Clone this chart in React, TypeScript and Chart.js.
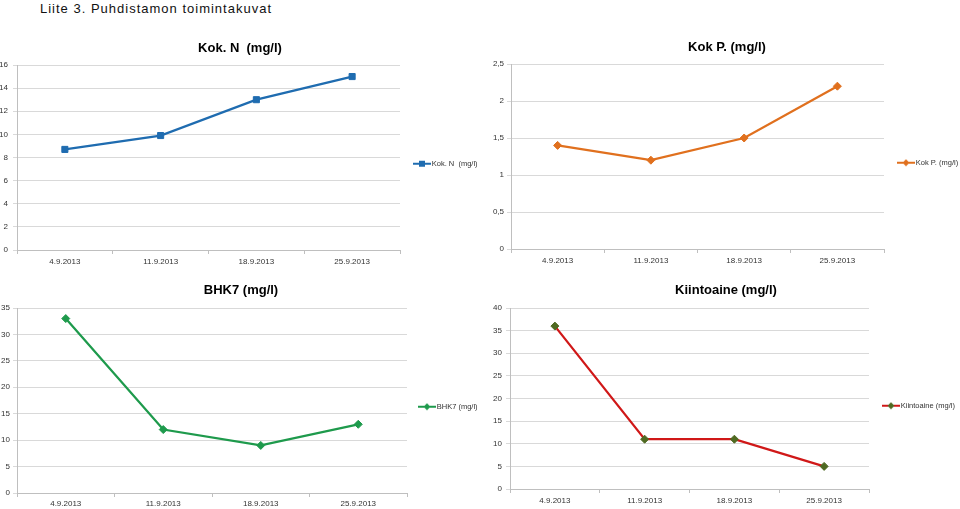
import React, { useEffect, useRef } from "react";
import { Chart, registerables } from "chart.js";

Chart.register(...registerables);

// ---- data ----
const pageTitle = "Liite 3. Puhdistamon toimintakuvat";
const categories = ["4.9.2013", "11.9.2013", "18.9.2013", "25.9.2013"];

const kokNLabel = "Kok. N  (mg/l)";
const kokNValues = [8.7, 9.9, 13, 15];

const kokPLabel = "Kok P. (mg/l)";
const kokPValues = [1.4, 1.2, 1.5, 2.2];

const bhk7Label = "BHK7 (mg/l)";
const bhk7Values = [33, 12, 9, 13];

const kiintoaineLabel = "Kiintoaine (mg/l)";
const kiintoaineValues = [36, 11, 11, 5];

const FONT = "'Liberation Sans', Arial, Helvetica, sans-serif";

type Spec = {
  left: number;
  top: number;
  width: number;
  height: number;
  pad: number;
  title: string;
  label: string;
  data: number[];
  color: string;
  markerColor: string;
  shape: "rect" | "rectRot";
  yMax: number;
  yStep: number;
  comma?: boolean;
  yWidth: number;
  yPad: number;
  xHeight: number;
  xPad: number;
  titlePadTop: number;
  titlePadBottom: number;
  legendWidth: number;
  legendPad: number;
  legendShift: number;
};

function legendSymbol(color: string, markerColor: string, shape: string) {
  const c = document.createElement("canvas");
  c.width = 18;
  c.height = 8;
  const ctx = c.getContext("2d")!;
  ctx.strokeStyle = color;
  ctx.lineWidth = 2;
  ctx.beginPath();
  ctx.moveTo(0, 4);
  ctx.lineTo(18, 4);
  ctx.stroke();
  ctx.fillStyle = markerColor;
  if (shape === "rect") {
    ctx.fillRect(6, 1, 6, 6);
  } else {
    ctx.beginPath();
    ctx.moveTo(9, 0.5);
    ctx.lineTo(12.5, 4);
    ctx.lineTo(9, 7.5);
    ctx.lineTo(5.5, 4);
    ctx.closePath();
    ctx.fill();
  }
  return c;
}

function buildConfig(s: Spec): any {
  return {
    type: "line",
    data: {
      labels: categories,
      datasets: [
        {
          label: s.label,
          data: s.data,
          borderColor: s.color,
          backgroundColor: s.markerColor,
          borderWidth: 2.25,
          pointStyle: s.shape,
          pointRadius: s.shape === "rect" ? 4.3 : 4,
          pointBackgroundColor: s.markerColor,
          pointBorderColor: s.markerColor,
          pointBorderWidth: 1,
          tension: 0,
        },
      ],
    },
    options: {
      responsive: false,
      animation: false,
      devicePixelRatio: 1,
      events: [],
      layout: { padding: { left: s.pad, right: s.pad, top: 0, bottom: 0 } },
      plugins: {
        tooltip: { enabled: false },
        title: {
          display: true,
          text: s.title,
          color: "#000",
          font: { family: FONT, size: 13, weight: "bold", lineHeight: 1.2 },
          padding: { top: s.titlePadTop, bottom: s.titlePadBottom },
        },
        legend: {
          display: true,
          position: "right",
          align: "start",
          maxWidth: s.legendWidth,
          title: {
            display: true,
            text: "",
            padding: 0,
            font: { family: FONT, size: 8, lineHeight: `${s.legendShift}px` },
          },
          labels: {
            usePointStyle: true,
            pointStyle: legendSymbol(s.color, s.markerColor, s.shape),
            pointStyleWidth: 12,
            padding: s.legendPad,
            color: "#333",
            font: { family: FONT, size: 7.5 },
          },
        },
      },
      scales: {
        x: {
          type: "category",
          offset: true,
          afterFit: (scale: any) => {
            scale.height = s.xHeight;
          },
          grid: {
            offset: true,
            drawOnChartArea: false,
            drawTicks: true,
            tickLength: 4,
            color: "#bfbfbf",
          },
          border: { display: true, color: "#bfbfbf", width: 1 },
          ticks: {
            color: "#333",
            padding: s.xPad,
            maxRotation: 0,
            autoSkip: false,
            font: { family: FONT, size: 8 },
          },
        },
        y: {
          type: "linear",
          min: 0,
          max: s.yMax,
          afterFit: (scale: any) => {
            scale.width = s.yWidth;
          },
          grid: {
            color: "#d9d9d9",
            lineWidth: 1,
            drawTicks: true,
            tickLength: 4,
          },
          border: { display: true, color: "#bfbfbf", width: 1 },
          ticks: {
            stepSize: s.yStep,
            color: "#333",
            padding: s.yPad,
            font: { family: FONT, size: 8 },
            callback: (v: any) => (s.comma ? String(v).replace(".", ",") : String(v)),
          },
        },
      },
    },
  };
}

const specs: Spec[] = [
  {
    left: -40, top: 30, width: 560, height: 240, pad: 36,
    title: "Kok. N  (mg/l)", label: kokNLabel, data: kokNValues,
    color: "#1f6cb0", markerColor: "#1f6cb0", shape: "rect",
    yMax: 16, yStep: 2,
    yWidth: 21, yPad: 5, xHeight: 20, xPad: 3,
    titlePadTop: 11, titlePadBottom: 8.4,
    legendWidth: 84, legendPad: 16, legendShift: 114,
  },
  {
    left: 447, top: 30, width: 560, height: 240, pad: 42,
    title: "Kok P. (mg/l)", label: kokPLabel, data: kokPValues,
    color: "#e0701e", markerColor: "#e0701e", shape: "rectRot",
    yMax: 2.5, yStep: 0.5, comma: true,
    yWidth: 22, yPad: 3, xHeight: 21, xPad: 3,
    titlePadTop: 10, titlePadBottom: 8.4,
    legendWidth: 81, legendPad: 16, legendShift: 113,
  },
  {
    left: -39, top: 270, width: 560, height: 239, pad: 38,
    title: "BHK7 (mg/l)", label: bhk7Label, data: bhk7Values,
    color: "#1e9a4c", markerColor: "#1e9a4c", shape: "rectRot",
    yMax: 35, yStep: 5,
    yWidth: 18, yPad: 3, xHeight: 16, xPad: 2,
    titlePadTop: 13, titlePadBottom: 9.4,
    legendWidth: 76, legendPad: 14, legendShift: 119,
  },
  {
    left: 446, top: 270, width: 560, height: 239, pad: 45,
    title: "Kiintoaine (mg/l)", label: kiintoaineLabel, data: kiintoaineValues,
    color: "#d01818", markerColor: "#4f6a22", shape: "rectRot",
    yMax: 40, yStep: 5,
    yWidth: 19, yPad: 4, xHeight: 20, xPad: 3,
    titlePadTop: 13, titlePadBottom: 9.4,
    legendWidth: 92, legendPad: 16, legendShift: 116,
  },
];

function LineChart({ spec }: { spec: Spec }) {
  const ref = useRef<HTMLCanvasElement>(null);
  useEffect(() => {
    const chart = new Chart(ref.current!, buildConfig(spec));
    return () => chart.destroy();
  }, [spec]);
  return (
    <canvas
      ref={ref}
      width={spec.width}
      height={spec.height}
      style={{
        position: "absolute",
        left: spec.left,
        top: spec.top,
        width: spec.width,
        height: spec.height,
        display: "block",
      }}
    />
  );
}

export default function App() {
  return (
    <div
      style={{
        position: "fixed",
        left: 0,
        top: 0,
        width: 960,
        height: 509,
        overflow: "hidden",
        background: "#fff",
      }}
    >
      <div
        style={{
          position: "absolute",
          left: 40,
          top: 1,
          fontFamily: FONT,
          fontSize: 13,
          letterSpacing: "1px",
          color: "#111",
          whiteSpace: "nowrap",
        }}
      >
        {pageTitle}
      </div>
      {specs.map((s, i) => (
        <LineChart key={i} spec={s} />
      ))}
    </div>
  );
}
